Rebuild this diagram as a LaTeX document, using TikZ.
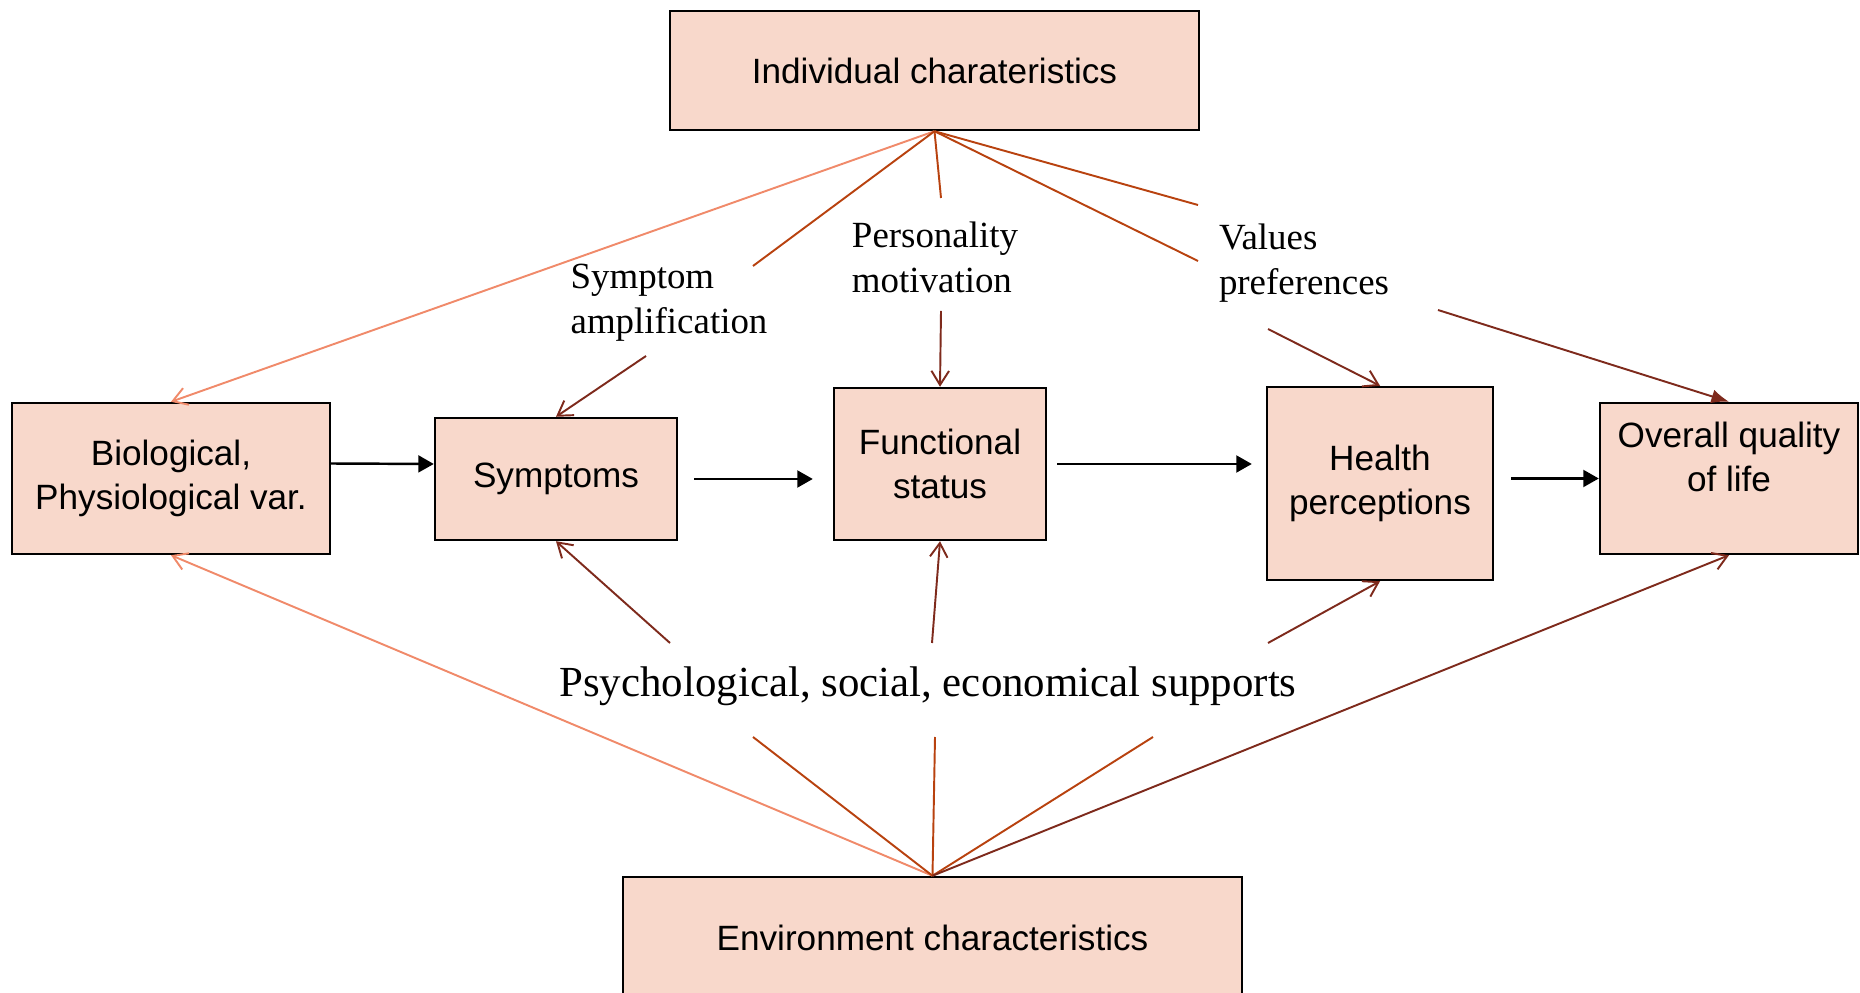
\documentclass[tikz,border=0pt]{standalone}
\usepackage{fontspec}
\setmainfont{Liberation Serif}
\newfontfamily\boxfont{Liberation Sans}
\usetikzlibrary{arrows.meta}

\definecolor{boxfill}{HTML}{F8D8CB}
\definecolor{salmon}{HTML}{F08A6A}
\definecolor{rust}{HTML}{B8420F}
\definecolor{darkrust}{HTML}{7E2A1C}

\begin{document}
\begin{tikzpicture}[x=0.1mm,y=-0.1mm,
    box/.style={draw,line width=0.7pt,fill=boxfill,align=center,inner sep=0pt,
      font=\boxfont\fontsize{10}{12.5}\selectfont},
    tag/.style={align=left,inner sep=0pt,font=\fontsize{10.5}{12.8}\selectfont},
    flow/.style={-{Triangle[length=4.4pt,width=4.8pt]},line width=0.7pt},
    link/.style={line width=0.55pt},
    tip/.style={-{Straight Barb[length=4pt,width=5pt]}}]
  \useasboundingbox (0,0) rectangle (1860,993);

  % boxes
  \node[box,minimum width=52.9mm,minimum height=11.9mm] (indiv) at (934.5,70.5) {Individual charateristics};
  \node[box,minimum width=31.8mm,minimum height=15.1mm] (bio) at (171,478.5) {Biological,\\Physiological var.};
  \node[box,minimum width=24.2mm,minimum height=12.2mm] (sym) at (556,479) {Symptoms};
  \node[box,minimum width=21.2mm,minimum height=15.2mm] (func) at (940,464) {Functional\\status};
  \node[box,minimum width=22.6mm,minimum height=19.3mm] (health) at (1380,483.5) {Health\\perceptions};
  \node[box,minimum width=25.8mm,minimum height=15.1mm] (qol) at (1729,478.5) {Overall quality\\of life\\\mbox{}};
  \node[box,minimum width=61.9mm,minimum height=12.2mm] (env) at (932.5,938) {Environment characteristics};

  % labels
  \node[tag] (amp) at (669,303) {Symptom\\amplification};
  \node[tag] (pers) at (935,257) {Personality\\motivation};
  \node[tag] (vals) at (1304,263) {Values\\preferences};
  \node[inner sep=0pt,font=\fontsize{12.2}{14}\selectfont] (supp) at (928,686) {Psychological, social, economical supports};

  % where the lines stop and start again round the labels
  \coordinate (a1) at (753,266);
  \coordinate (a2) at (646,356);
  \coordinate (p1) at (941,198);
  \coordinate (p2) at (941,311);
  \coordinate (v1) at (1198,261);
  \coordinate (v2) at (1268,329);
  \coordinate (w1) at (1198,205);
  \coordinate (w2) at (1438,310);
  \coordinate (s1) at (753,737);
  \coordinate (s2) at (670,643);
  \coordinate (f1) at (935,737);
  \coordinate (f2) at (932,643);
  \coordinate (h1) at (1153,737);
  \coordinate (h2) at (1268,643);

  % main chain
  \draw[flow] ([yshift=1.5mm]bio.east) -- ([yshift=1.5mm]sym.west);
  \draw[flow,shorten <=1.6mm,shorten >=2mm] (sym.east) -- (sym.east -| func.west);
  \draw[flow,shorten <=1mm,shorten >=1.4mm] (func.east) -- (func.east -| health.west);
  \draw[flow,shorten <=1.7mm] (health.east |- qol.west) -- (qol.west);

  % individual characteristics
  \draw[link,salmon,tip] (indiv.south) -- (bio.north);
  \draw[link,rust] (indiv.south) -- (a1);
  \draw[link,darkrust,tip] (a2) -- (sym.north);
  \draw[link,rust] (indiv.south) -- (p1);
  \draw[link,darkrust,tip] (p2) -- (func.north);
  \draw[link,rust] (indiv.south) -- (v1);
  \draw[link,darkrust,tip] (v2) -- (health.north);
  \draw[link,rust] (indiv.south) -- (w1);
  \draw[link,darkrust,-{Latex[length=5pt,width=4pt]}] (w2) -- (qol.north);

  % environment characteristics
  \draw[link,salmon,tip] (env.north) -- (bio.south);
  \draw[link,rust] (env.north) -- (s1);
  \draw[link,darkrust,tip] (s2) -- (sym.south);
  \draw[link,rust] (env.north) -- (f1);
  \draw[link,darkrust,tip] (f2) -- (func.south);
  \draw[link,rust] (env.north) -- (h1);
  \draw[link,darkrust,tip] (h2) -- (health.south);
  \draw[link,darkrust,tip] (env.north) -- (qol.south);
\end{tikzpicture}
\end{document}
